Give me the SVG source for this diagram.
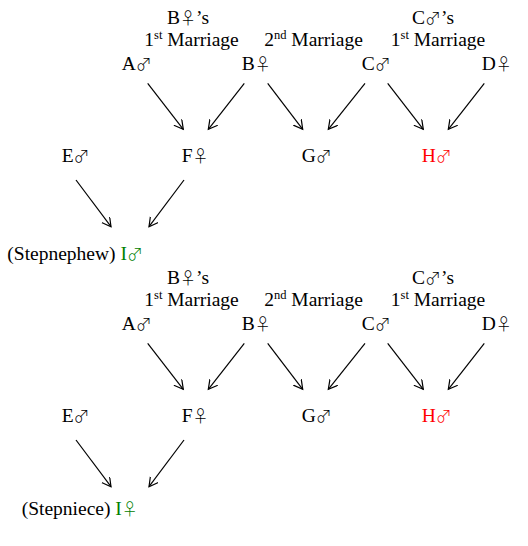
<svg xmlns="http://www.w3.org/2000/svg" width="528" height="546" viewBox="0 0 528 546">
<style>
text{font-family:"Liberation Serif","Times New Roman",serif;font-size:19.5px;fill:#000}
.m{text-anchor:middle}
.sup{font-size:12.5px}
.s{font-family:"Noto Sans CJK JP","DejaVu Sans",sans-serif;font-size:16px;font-weight:300}
.red{fill:#ff0000}
.grn{fill:#008000}
.c line{stroke:#000;stroke-width:1.2;fill:none;marker-end:url(#ah)}
</style>
<defs>
<marker id="ah" markerUnits="userSpaceOnUse" markerWidth="12" markerHeight="12" refX="9" refY="5" orient="auto">
<path d="M0,0 L9,5 L0,10" fill="none" stroke="#000" stroke-width="1.2"/>
</marker>
</defs>
<g id="top">
<g id="t-lbl-b1"><text class="m" x="188" y="24">B<tspan class="s">♀</tspan>’s</text><text class="m" x="191.5" y="46">1<tspan class="sup" dy="-7">st</tspan><tspan dy="7"> Marriage</tspan></text></g>
<g id="t-lbl-2"><text class="m" x="313.5" y="46">2<tspan class="sup" dy="-7">nd</tspan><tspan dy="7"> Marriage</tspan></text></g>
<g id="t-lbl-c1"><text class="m" x="433" y="24">C<tspan class="s">♂</tspan>’s</text><text class="m" x="438" y="46">1<tspan class="sup" dy="-7">st</tspan><tspan dy="7"> Marriage</tspan></text></g>
<g id="t-A"><text x="121.7" y="70">A<tspan class="s">♂</tspan></text></g>
<g id="t-B"><text x="241.7" y="70">B<tspan class="s">♀</tspan></text></g>
<g id="t-C"><text x="361.7" y="70">C<tspan class="s">♂</tspan></text></g>
<g id="t-D"><text x="481.7" y="70">D<tspan class="s">♀</tspan></text></g>
<g id="t-E"><text x="61.7" y="161.7">E<tspan class="s">♂</tspan></text></g>
<g id="t-F"><text x="181.7" y="161.7">F<tspan class="s">♀</tspan></text></g>
<g id="t-G"><text x="301.7" y="161.7">G<tspan class="s">♂</tspan></text></g>
<g id="t-H"><text class="red" x="421.7" y="161.7">H<tspan class="s">♂</tspan></text></g>
<g id="t-I"><text x="7.3" y="260">(Stepnephew) <tspan class="grn">I<tspan class="s">♂</tspan></tspan></text></g>
</g>
<g id="bottom" transform="translate(0,260)">
<g id="b-lbl-b1"><text class="m" x="188" y="24">B<tspan class="s">♀</tspan>’s</text><text class="m" x="191.5" y="46">1<tspan class="sup" dy="-7">st</tspan><tspan dy="7"> Marriage</tspan></text></g>
<g id="b-lbl-2"><text class="m" x="313.5" y="46">2<tspan class="sup" dy="-7">nd</tspan><tspan dy="7"> Marriage</tspan></text></g>
<g id="b-lbl-c1"><text class="m" x="433" y="24">C<tspan class="s">♂</tspan>’s</text><text class="m" x="438" y="46">1<tspan class="sup" dy="-7">st</tspan><tspan dy="7"> Marriage</tspan></text></g>
<g id="b-A"><text x="121.7" y="70">A<tspan class="s">♂</tspan></text></g>
<g id="b-B"><text x="241.7" y="70">B<tspan class="s">♀</tspan></text></g>
<g id="b-C"><text x="361.7" y="70">C<tspan class="s">♂</tspan></text></g>
<g id="b-D"><text x="481.7" y="70">D<tspan class="s">♀</tspan></text></g>
<g id="b-E"><text x="61.7" y="161.7">E<tspan class="s">♂</tspan></text></g>
<g id="b-F"><text x="181.7" y="161.7">F<tspan class="s">♀</tspan></text></g>
<g id="b-G"><text x="301.7" y="161.7">G<tspan class="s">♂</tspan></text></g>
<g id="b-H"><text class="red" x="421.7" y="161.7">H<tspan class="s">♂</tspan></text></g>
<g id="b-I"><text x="21.7" y="255">(Stepniece) <tspan class="grn">I<tspan class="s">♀</tspan></tspan></text></g>
</g>
<g id="connectors" class="c">
<line x1="147.7" y1="83.3" x2="183.3" y2="129.3"/>
<line x1="244.3" y1="83.3" x2="208.3" y2="129.3"/>
<line x1="267.7" y1="83.3" x2="302.7" y2="129.3"/>
<line x1="365" y1="83.3" x2="328.3" y2="129.3"/>
<line x1="387.7" y1="83.3" x2="423.3" y2="129.3"/>
<line x1="484.3" y1="83.3" x2="448.3" y2="129.3"/>
<line x1="76" y1="180" x2="111" y2="226.7"/>
<line x1="184" y1="180" x2="149" y2="226.7"/>
<line x1="147.7" y1="343.3" x2="183.3" y2="389.3"/>
<line x1="244.3" y1="343.3" x2="208.3" y2="389.3"/>
<line x1="267.7" y1="343.3" x2="302.7" y2="389.3"/>
<line x1="365" y1="343.3" x2="328.3" y2="389.3"/>
<line x1="387.7" y1="343.3" x2="423.3" y2="389.3"/>
<line x1="484.3" y1="343.3" x2="448.3" y2="389.3"/>
<line x1="76" y1="440" x2="111" y2="486.7"/>
<line x1="184" y1="440" x2="149" y2="486.7"/>
</g>
</svg>
